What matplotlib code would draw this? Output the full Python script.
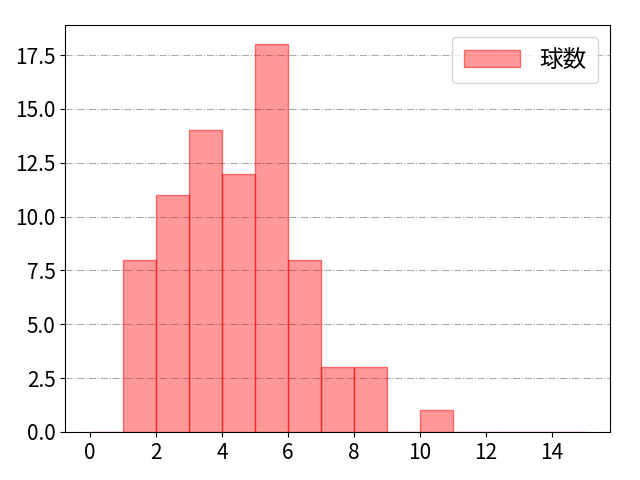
import matplotlib
matplotlib.use('Agg')
import matplotlib.pyplot as plt

plt.rcParams['font.family'] = ['Noto Sans CJK JP', 'DejaVu Sans']
plt.rcParams['font.size'] = 15

# 球数の分布 (ビン幅1)
bin_left = [0, 1, 2, 3, 4, 5, 6, 7, 8, 9, 10, 11, 12, 13, 14]
counts = [0, 8, 11, 14, 12, 18, 8, 3, 3, 0, 1, 0, 0, 0, 0]

fig, ax = plt.subplots(figsize=(6.4, 4.8), dpi=100)
ax.bar(bin_left, counts, width=1, align='edge', color=(1, 0, 0, 0.4),
       edgecolor=(1, 0, 0, 0.5), linewidth=1, label='球数')
ax.set_xlim(-0.75, 15.75)
ax.set_ylim(0, 18.9)
ax.set_xticks(range(0, 16, 2))
ax.set_yticks([0, 2.5, 5, 7.5, 10, 12.5, 15, 17.5])
ax.yaxis.grid(True, linestyle='-.', color='#aaaaaa', linewidth=0.8)
ax.set_axisbelow(True)
ax.legend(loc='upper right', fontsize=17, handlelength=2.4, borderpad=0.5)
fig.subplots_adjust(left=0.102, right=0.953, top=0.948, bottom=0.1)
fig.savefig('out.png')
